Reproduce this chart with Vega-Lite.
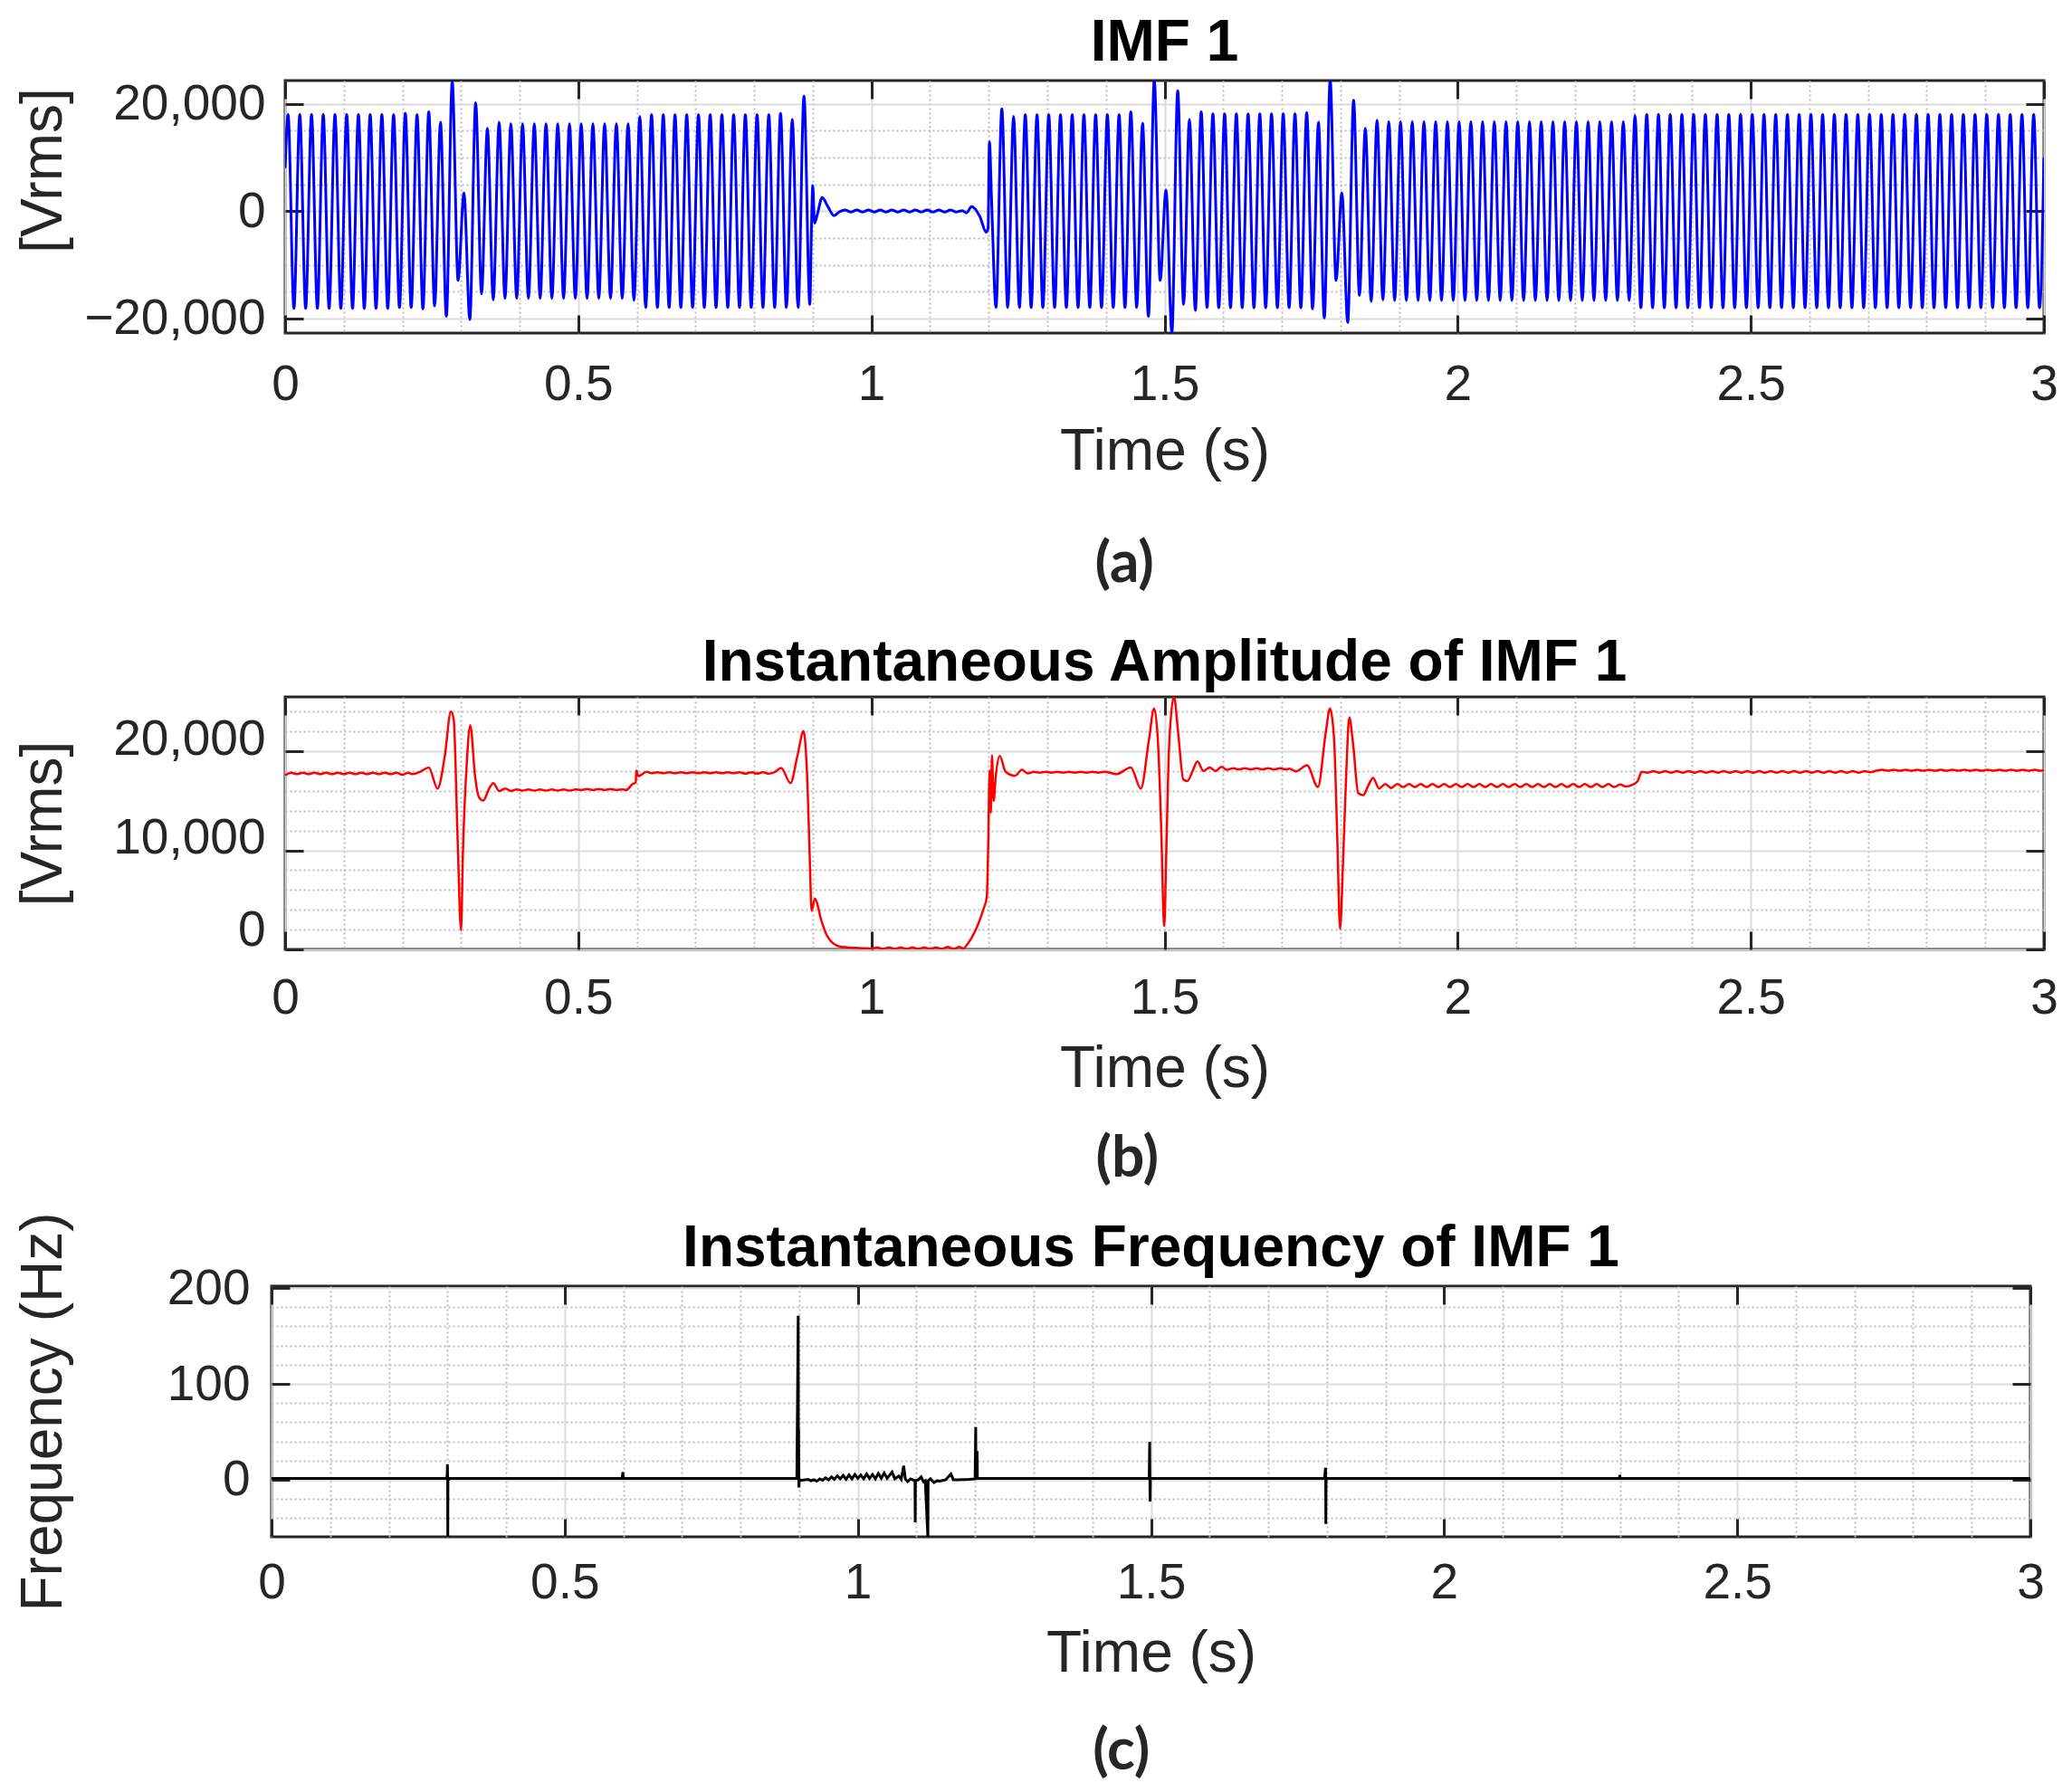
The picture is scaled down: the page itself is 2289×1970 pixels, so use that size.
{
  "$schema": "https://vega.github.io/schema/vega-lite/v6.json",
  "background": "white",
  "padding": {"left": 7, "top": 14, "right": 0, "bottom": 0},
  "spacing": 24,
  "vconcat": [
    {
      "spacing": 43,
      "vconcat": [
        {
          "title": {"text": "(a)", "orient": "bottom", "font": "Lato", "fontSize": 64, "fontWeight": "bold", "color": "#262626", "frame": "bounds", "anchor": "middle", "baseline": "top", "offset": 59, "dx": 101},
          "spacing": 0,
          "hconcat": [
            {"width": 1, "height": 1, "data": {"values": [{"t": 0}]}, "mark": {"type": "point", "opacity": 0}, "view": {"stroke": null}},
            {
              "width": 1943,
              "height": 279,
              "title": {"text": "IMF 1", "offset": -43, "baseline": "alphabetic"},
              "data": {"values": [
                {"t":0,"v":8000},{"t":0.005,"v":18000},{"t":0.015,"v":-18100},{"t":0.025,"v":18000},{"t":0.035,"v":-18100},{"t":0.045,"v":18000},{"t":0.055,"v":-18100},{"t":0.065,"v":18000},{"t":0.075,"v":-18100},{"t":0.085,"v":18000},{"t":0.095,"v":-18100},
                {"t":0.105,"v":18000},{"t":0.115,"v":-18100},{"t":0.125,"v":18000},{"t":0.135,"v":-18100},{"t":0.145,"v":18000},{"t":0.155,"v":-18100},{"t":0.165,"v":18000},{"t":0.175,"v":-18100},{"t":0.185,"v":17930},{"t":0.195,"v":-17930},
                {"t":0.205,"v":18200},{"t":0.215,"v":-17930},{"t":0.225,"v":17930},{"t":0.235,"v":-18200},{"t":0.245,"v":18490},{"t":0.255,"v":-17650},{"t":0.265,"v":16530},{"t":0.275,"v":-19600},{"t":0.285,"v":24090},{"t":0.295,"v":-12890},
                {"t":0.305,"v":3360},{"t":0.315,"v":-20170},{"t":0.325,"v":20170},{"t":0.335,"v":-15400},{"t":0.345,"v":15400},{"t":0.355,"v":-16530},{"t":0.365,"v":16530},{"t":0.375,"v":-16250},{"t":0.385,"v":16250},{"t":0.395,"v":-16250},
                {"t":0.405,"v":16250},{"t":0.415,"v":-16250},{"t":0.425,"v":16250},{"t":0.435,"v":-16250},{"t":0.445,"v":16250},{"t":0.455,"v":-16250},{"t":0.465,"v":16250},{"t":0.475,"v":-16250},{"t":0.485,"v":16250},{"t":0.495,"v":-16250},
                {"t":0.505,"v":16250},{"t":0.515,"v":-16250},{"t":0.525,"v":16250},{"t":0.535,"v":-16250},{"t":0.545,"v":16250},{"t":0.555,"v":-16250},{"t":0.565,"v":16250},{"t":0.575,"v":-16250},{"t":0.585,"v":16250},{"t":0.595,"v":-16600},
                {"t":0.605,"v":17650},{"t":0.615,"v":-17930},{"t":0.625,"v":17930},{"t":0.635,"v":-17930},{"t":0.645,"v":17930},{"t":0.655,"v":-17930},{"t":0.665,"v":17930},{"t":0.675,"v":-17930},{"t":0.685,"v":17930},{"t":0.695,"v":-17930},
                {"t":0.705,"v":17930},{"t":0.715,"v":-17930},{"t":0.725,"v":17930},{"t":0.735,"v":-17930},{"t":0.745,"v":17930},{"t":0.755,"v":-17930},{"t":0.765,"v":17930},{"t":0.775,"v":-17930},{"t":0.785,"v":17930},{"t":0.795,"v":-17930},
                {"t":0.805,"v":17930},{"t":0.815,"v":-17930},{"t":0.825,"v":17930},{"t":0.835,"v":-17930},{"t":0.845,"v":18200},{"t":0.855,"v":-17930},{"t":0.865,"v":17090},{"t":0.875,"v":-17930},{"t":0.885,"v":21400},{"t":0.895,"v":-17370},
                {"t":0.8975,"v":-4500},{"t":0.9,"v":4760},{"t":0.903,"v":-2240},{"t":0.908,"v":-500},{"t":0.916,"v":2520},{"t":0.926,"v":800},{"t":0.936,"v":-840},{"t":0.946,"v":-100},
                {"t":0.955,"v":200},{"t":0.965,"v":-150},{"t":0.975,"v":200},{"t":0.985,"v":-150},{"t":0.995,"v":200},{"t":1.005,"v":-150},{"t":1.015,"v":200},{"t":1.025,"v":-150},{"t":1.035,"v":200},{"t":1.045,"v":-150},
                {"t":1.055,"v":200},{"t":1.065,"v":-150},{"t":1.075,"v":200},{"t":1.085,"v":-150},{"t":1.095,"v":200},{"t":1.105,"v":-150},{"t":1.115,"v":200},{"t":1.125,"v":-150},{"t":1.135,"v":200},{"t":1.145,"v":-150},
                {"t":1.155,"v":100},{"t":1.162,"v":-300},{"t":1.171,"v":840},{"t":1.185,"v":-1000},{"t":1.1957,"v":-3900},{"t":1.199,"v":-3200},{"t":1.2013,"v":12900},{"t":1.205,"v":2000},{"t":1.2125,"v":-17930},{"t":1.2225,"v":19050},
                {"t":1.2325,"v":-17930},{"t":1.2425,"v":17650},{"t":1.2525,"v":-17930},{"t":1.2625,"v":17930},{"t":1.2725,"v":-17930},{"t":1.2825,"v":17930},{"t":1.2925,"v":-17930},{"t":1.3025,"v":17930},{"t":1.3125,"v":-17930},{"t":1.3225,"v":17930},
                {"t":1.3325,"v":-17930},{"t":1.3425,"v":17930},{"t":1.3525,"v":-17930},{"t":1.3625,"v":17930},{"t":1.3725,"v":-17930},{"t":1.3825,"v":17930},{"t":1.3925,"v":-17930},{"t":1.4025,"v":17930},{"t":1.4125,"v":-17930},{"t":1.4225,"v":17930},
                {"t":1.4325,"v":-17930},{"t":1.4425,"v":18490},{"t":1.4525,"v":-17930},{"t":1.4625,"v":16360},{"t":1.4725,"v":-19600},{"t":1.4825,"v":24370},{"t":1.4925,"v":-12890},{"t":1.5025,"v":3920},{"t":1.5125,"v":-22690},{"t":1.5225,"v":22400},
                {"t":1.5325,"v":-17370},{"t":1.5425,"v":17090},{"t":1.5525,"v":-18490},{"t":1.5625,"v":18490},{"t":1.5725,"v":-17930},{"t":1.5825,"v":18100},{"t":1.5925,"v":-18000},{"t":1.6025,"v":18100},{"t":1.6125,"v":-18000},{"t":1.6225,"v":18100},
                {"t":1.6325,"v":-18000},{"t":1.6425,"v":18100},{"t":1.6525,"v":-18000},{"t":1.6625,"v":18100},{"t":1.6725,"v":-18000},{"t":1.6825,"v":18100},{"t":1.6925,"v":-18000},{"t":1.7025,"v":18100},{"t":1.7125,"v":-18000},{"t":1.7225,"v":18100},
                {"t":1.7325,"v":-18000},{"t":1.7425,"v":18300},{"t":1.7525,"v":-18200},{"t":1.7625,"v":16530},{"t":1.7725,"v":-19890},{"t":1.7825,"v":24370},{"t":1.7925,"v":-12890},{"t":1.8025,"v":3360},{"t":1.8125,"v":-20730},{"t":1.8225,"v":20620},
                {"t":1.8325,"v":-15690},{"t":1.8425,"v":15400},{"t":1.8525,"v":-16810},{"t":1.8625,"v":16920},{"t":1.8725,"v":-16530},{"t":1.8825,"v":16650},{"t":1.8925,"v":-16650},{"t":1.9025,"v":16650},{"t":1.9125,"v":-16650},{"t":1.9225,"v":16650},
                {"t":1.9325,"v":-16650},{"t":1.9425,"v":16650},{"t":1.9525,"v":-16650},{"t":1.9625,"v":16650},{"t":1.9725,"v":-16650},{"t":1.9825,"v":16650},{"t":1.9925,"v":-16650},{"t":2.0025,"v":16650},{"t":2.0125,"v":-16650},{"t":2.0225,"v":16650},
                {"t":2.0325,"v":-16650},{"t":2.0425,"v":16650},{"t":2.0525,"v":-16650},{"t":2.0625,"v":16650},{"t":2.0725,"v":-16650},{"t":2.0825,"v":16650},{"t":2.0925,"v":-16650},{"t":2.1025,"v":16650},{"t":2.1125,"v":-16650},{"t":2.1225,"v":16650},
                {"t":2.1325,"v":-16650},{"t":2.1425,"v":16650},{"t":2.1525,"v":-16650},{"t":2.1625,"v":16650},{"t":2.1725,"v":-16650},{"t":2.1825,"v":16650},{"t":2.1925,"v":-16650},{"t":2.2025,"v":16650},{"t":2.2125,"v":-16650},{"t":2.2225,"v":16650},
                {"t":2.2325,"v":-16650},{"t":2.2425,"v":16650},{"t":2.2525,"v":-16650},{"t":2.2625,"v":16650},{"t":2.2725,"v":-16650},{"t":2.2825,"v":16650},{"t":2.2925,"v":-16650},{"t":2.3025,"v":17800},{"t":2.3125,"v":-18000},{"t":2.3225,"v":18000},
                {"t":2.3325,"v":-18000},{"t":2.3425,"v":18000},{"t":2.3525,"v":-18000},{"t":2.3625,"v":18000},{"t":2.3725,"v":-18000},{"t":2.3825,"v":18000},{"t":2.3925,"v":-18000},{"t":2.4025,"v":18000},{"t":2.4125,"v":-18000},{"t":2.4225,"v":18000},
                {"t":2.4325,"v":-18000},{"t":2.4425,"v":18000},{"t":2.4525,"v":-18000},{"t":2.4625,"v":18000},{"t":2.4725,"v":-18000},{"t":2.4825,"v":18000},{"t":2.4925,"v":-18000},{"t":2.5025,"v":18000},{"t":2.5125,"v":-18000},{"t":2.5225,"v":18000},
                {"t":2.5325,"v":-18000},{"t":2.5425,"v":18000},{"t":2.5525,"v":-18000},{"t":2.5625,"v":18000},{"t":2.5725,"v":-18000},{"t":2.5825,"v":18000},{"t":2.5925,"v":-18000},{"t":2.6025,"v":18000},{"t":2.6125,"v":-18000},{"t":2.6225,"v":18000},
                {"t":2.6325,"v":-18000},{"t":2.6425,"v":18000},{"t":2.6525,"v":-18000},{"t":2.6625,"v":18000},{"t":2.6725,"v":-18000},{"t":2.6825,"v":18000},{"t":2.6925,"v":-18000},{"t":2.7025,"v":18000},{"t":2.7125,"v":-18000},{"t":2.7225,"v":18000},
                {"t":2.7325,"v":-18000},{"t":2.7425,"v":18000},{"t":2.7525,"v":-18000},{"t":2.7625,"v":18000},{"t":2.7725,"v":-18000},{"t":2.7825,"v":18000},{"t":2.7925,"v":-18000},{"t":2.8025,"v":18000},{"t":2.8125,"v":-18000},{"t":2.8225,"v":18000},
                {"t":2.8325,"v":-18000},{"t":2.8425,"v":18000},{"t":2.8525,"v":-18000},{"t":2.8625,"v":18000},{"t":2.8725,"v":-18000},{"t":2.8825,"v":18000},{"t":2.8925,"v":-18000},{"t":2.9025,"v":18000},{"t":2.9125,"v":-18000},{"t":2.9225,"v":18000},
                {"t":2.9325,"v":-18000},{"t":2.9425,"v":18000},{"t":2.9525,"v":-18000},{"t":2.9625,"v":18000},{"t":2.9725,"v":-18000},{"t":2.9825,"v":18000},{"t":2.9925,"v":-18000},{"t":3,"v":10000}
              ]},
              "layer": [
                {
                  "mark": {"type": "line", "color": "#0000ff", "strokeWidth": 3, "interpolate": "monotone", "clip": true},
                  "encoding": {
                    "x": {"field": "t", "type": "quantitative", "scale": {"domain": [0, 3], "nice": false, "zero": false},
                      "axis": {"values": [0,0.1,0.2,0.3,0.4,0.5,0.6,0.7,0.8,0.9,1,1.1,1.2,1.3,1.4,1.5,1.6,1.7,1.8,1.9,2,2.1,2.2,2.3,2.4,2.5,2.6,2.7,2.8,2.9,3],
                        "labelExpr": "abs(datum.value*2-round(datum.value*2))<0.001 ? format(datum.value,'~g') : ''",
                        "labelFlush": false, "labelOverlap": false, "labelBound": false,
                        "grid": true, "gridWidth": 2,
                        "gridColor": {"condition": {"test": "abs(datum.value*2-round(datum.value*2))<0.001", "value": "#dcdcdc"}, "value": "#bdbdbd"},
                        "gridDash": {"condition": {"test": "abs(datum.value*2-round(datum.value*2))<0.001", "value": [1, 0]}, "value": [2, 3]},
                        "tickSize": -20, "tickWidth": 3, "tickColor": "#262626",
                        "tickOpacity": {"condition": {"test": "abs(datum.value*2-round(datum.value*2))<0.001", "value": 1}, "value": 0},
                        "labelPadding": 50, "title": "Time (s)", "titlePadding": 9, "minExtent": 90, "maxExtent": 90}},
                    "y": {"field": "v", "type": "quantitative", "scale": {"domain": [-22700, 24300], "nice": false, "zero": false},
                      "axis": {"values": [-20000,-15000,-10000,-5000,0,5000,10000,15000,20000],
                        "labelExpr": "datum.value % 20000 === 0 ? format(datum.value, ',') : ''",
                        "labelFlush": false, "labelOverlap": false, "labelBound": false, "labelLimit": 400,
                        "grid": true, "gridWidth": 2,
                        "gridColor": {"condition": {"test": "datum.value % 20000 === 0", "value": "#dcdcdc"}, "value": "#bdbdbd"},
                        "gridDash": {"condition": {"test": "datum.value % 20000 === 0", "value": [1, 0]}, "value": [2, 3]},
                        "tickSize": -20, "tickWidth": 3, "tickColor": "#262626",
                        "tickOpacity": {"condition": {"test": "datum.value % 20000 === 0", "value": 1}, "value": 0},
                        "labelPadding": 42, "title": "[Vrms]", "titlePadding": 20, "titleY": 99, "minExtent": 215, "maxExtent": 215}}
                  }
                },
                {
                  "transform": [{"filter": "datum.t == 0"}],
                  "mark": {"type": "point", "opacity": 0},
                  "encoding": {
                    "x": {"field": "t", "type": "quantitative", "scale": {"domain": [0, 3], "nice": false, "zero": false},
                      "axis": {"orient": "top", "values": [0,0.5,1,1.5,2,2.5,3], "labels": false, "grid": false, "domain": false, "title": null, "tickSize": -20, "tickWidth": 3, "tickColor": "#262626", "minExtent": 0, "maxExtent": 0}},
                    "y": {"field": "v", "type": "quantitative", "scale": {"domain": [-22700, 24300], "nice": false, "zero": false},
                      "axis": {"orient": "right", "values": [-20000,0,20000], "labels": false, "grid": false, "domain": false, "title": null, "tickSize": -20, "tickWidth": 3, "tickColor": "#262626", "minExtent": 0, "maxExtent": 0}}
                  }
                }
              ],
              "resolve": {"axis": {"x": "independent", "y": "independent"}}
            }
          ]
        },
        {
          "title": {"text": "(b)", "orient": "bottom", "font": "Lato", "fontSize": 64, "fontWeight": "bold", "color": "#262626", "frame": "bounds", "anchor": "middle", "baseline": "top", "offset": 34, "dx": 104},
          "spacing": 0,
          "hconcat": [
            {"width": 1, "height": 1, "data": {"values": [{"t": 0}]}, "mark": {"type": "point", "opacity": 0}, "view": {"stroke": null}},
            {
              "width": 1943,
              "height": 279,
              "title": {"text": "Instantaneous Amplitude of IMF 1", "offset": -71, "baseline": "alphabetic"},
              "data": {"values": [
                {"t":0,"v":17600},{"t":0.01,"v":17850},{"t":0.02,"v":17700},{"t":0.03,"v":17850},{"t":0.04,"v":17700},{"t":0.05,"v":17850},{"t":0.06,"v":17700},{"t":0.07,"v":17850},{"t":0.08,"v":17700},{"t":0.09,"v":17850},
                {"t":0.1,"v":17700},{"t":0.11,"v":17850},{"t":0.12,"v":17700},{"t":0.13,"v":17850},{"t":0.14,"v":17700},{"t":0.15,"v":17850},{"t":0.16,"v":17700},{"t":0.17,"v":17850},{"t":0.18,"v":17700},{"t":0.19,"v":17850},
                {"t":0.2,"v":17650},{"t":0.21,"v":17850},{"t":0.2175,"v":17700},{"t":0.232,"v":18000},{"t":0.2449,"v":18380},{"t":0.26,"v":16250},{"t":0.2725,"v":19600},{"t":0.2827,"v":24020},{"t":0.2875,"v":23250},{"t":0.2944,"v":10760},
                {"t":0.3,"v":1920},{"t":0.3033,"v":9850},{"t":0.31,"v":19000},{"t":0.3158,"v":22650},{"t":0.324,"v":17470},{"t":0.331,"v":15330},{"t":0.338,"v":15030},{"t":0.348,"v":16250},{"t":0.355,"v":16800},{"t":0.365,"v":16000},
                {"t":0.3755,"v":16250},{"t":0.385,"v":16000},{"t":0.395,"v":16150},{"t":0.405,"v":16050},{"t":0.415,"v":16150},{"t":0.425,"v":16050},{"t":0.435,"v":16150},{"t":0.445,"v":16050},{"t":0.455,"v":16150},{"t":0.465,"v":16050},
                {"t":0.475,"v":16150},{"t":0.485,"v":16050},{"t":0.495,"v":16150},{"t":0.505,"v":16100},{"t":0.515,"v":16200},{"t":0.525,"v":16100},{"t":0.535,"v":16200},{"t":0.545,"v":16100},{"t":0.555,"v":16200},{"t":0.565,"v":16100},
                {"t":0.575,"v":16150},{"t":0.582,"v":16100},{"t":0.5925,"v":16700},{"t":0.598,"v":16850},{"t":0.599,"v":18080},{"t":0.6025,"v":17500},{"t":0.6163,"v":17930},{"t":0.625,"v":17800},{"t":0.635,"v":17900},{"t":0.645,"v":17800},
                {"t":0.655,"v":17900},{"t":0.665,"v":17800},{"t":0.675,"v":17900},{"t":0.685,"v":17800},{"t":0.695,"v":17900},{"t":0.705,"v":17800},{"t":0.715,"v":17900},{"t":0.725,"v":17800},{"t":0.735,"v":17900},{"t":0.745,"v":17800},
                {"t":0.755,"v":17900},{"t":0.765,"v":17800},{"t":0.775,"v":17900},{"t":0.785,"v":17750},{"t":0.795,"v":17900},{"t":0.805,"v":17750},{"t":0.815,"v":17900},{"t":0.825,"v":17750},{"t":0.835,"v":17900},{"t":0.846,"v":18320},
                {"t":0.862,"v":16800},{"t":0.874,"v":19600},{"t":0.8843,"v":22040},{"t":0.8912,"v":16250},{"t":0.8947,"v":9540},{"t":0.898,"v":3900},{"t":0.9035,"v":5120},{"t":0.915,"v":2840},{"t":0.925,"v":1310},{"t":0.9455,"v":300},
                {"t":0.973,"v":150},{"t":1,"v":100},{"t":1.01,"v":200},{"t":1.02,"v":50},{"t":1.03,"v":200},{"t":1.04,"v":50},{"t":1.05,"v":200},{"t":1.06,"v":50},{"t":1.07,"v":200},{"t":1.08,"v":50},
                {"t":1.09,"v":200},{"t":1.1,"v":50},{"t":1.11,"v":200},{"t":1.12,"v":50},{"t":1.13,"v":250},{"t":1.14,"v":50},{"t":1.15,"v":250},{"t":1.157,"v":100},{"t":1.164,"v":550},{"t":1.1775,"v":1920},
                {"t":1.191,"v":4050},{"t":1.1968,"v":5270},{"t":1.1995,"v":11370},{"t":1.2016,"v":18080},{"t":1.2037,"v":13800},{"t":1.2057,"v":19600},{"t":1.2085,"v":15000},{"t":1.212,"v":17400},{"t":1.2188,"v":19540},{"t":1.229,"v":17930},
                {"t":1.245,"v":17530},{"t":1.2567,"v":18140},{"t":1.267,"v":17770},{"t":1.277,"v":17930},{"t":1.287,"v":17850},{"t":1.297,"v":17930},{"t":1.307,"v":17850},{"t":1.317,"v":17930},{"t":1.327,"v":17850},{"t":1.337,"v":17930},
                {"t":1.347,"v":17850},{"t":1.357,"v":17930},{"t":1.367,"v":17850},{"t":1.377,"v":17930},{"t":1.387,"v":17850},{"t":1.397,"v":17930},{"t":1.407,"v":17850},{"t":1.418,"v":17700},{"t":1.4424,"v":18380},{"t":1.4596,"v":16250},
                {"t":1.4733,"v":21130},{"t":1.4823,"v":24330},{"t":1.4892,"v":20520},{"t":1.494,"v":12900},{"t":1.4995,"v":2380},{"t":1.503,"v":9850},{"t":1.5078,"v":20520},{"t":1.516,"v":25550},{"t":1.523,"v":22040},{"t":1.532,"v":17160},
                {"t":1.5388,"v":17000},{"t":1.5478,"v":18000},{"t":1.556,"v":18990},{"t":1.5664,"v":18020},{"t":1.577,"v":18380},{"t":1.587,"v":18020},{"t":1.597,"v":18440},{"t":1.607,"v":18140},{"t":1.617,"v":18300},{"t":1.627,"v":18180},
                {"t":1.637,"v":18300},{"t":1.647,"v":18180},{"t":1.657,"v":18300},{"t":1.667,"v":18180},{"t":1.677,"v":18300},{"t":1.687,"v":18180},{"t":1.697,"v":18300},{"t":1.707,"v":18180},{"t":1.713,"v":18250},{"t":1.724,"v":17980},
                {"t":1.743,"v":18600},{"t":1.7616,"v":16400},{"t":1.7753,"v":22040},{"t":1.7822,"v":24330},{"t":1.789,"v":21430},{"t":1.7946,"v":11370},{"t":1.7994,"v":2070},{"t":1.8042,"v":8320},{"t":1.8097,"v":17470},{"t":1.8152,"v":23410},
                {"t":1.822,"v":20520},{"t":1.8303,"v":15790},{"t":1.8392,"v":15580},{"t":1.8475,"v":16550},{"t":1.8557,"v":17320},{"t":1.866,"v":16250},{"t":1.8763,"v":16700},{"t":1.8866,"v":16300},{"t":1.897,"v":16700},{"t":1.907,"v":16400},
                {"t":1.917,"v":16700},{"t":1.927,"v":16400},{"t":1.937,"v":16700},{"t":1.947,"v":16400},{"t":1.957,"v":16700},{"t":1.967,"v":16400},{"t":1.977,"v":16700},{"t":1.987,"v":16400},{"t":1.997,"v":16700},{"t":2.007,"v":16400},
                {"t":2.017,"v":16700},{"t":2.027,"v":16400},{"t":2.037,"v":16700},{"t":2.047,"v":16400},{"t":2.057,"v":16700},{"t":2.067,"v":16400},{"t":2.077,"v":16700},{"t":2.087,"v":16400},{"t":2.097,"v":16700},{"t":2.107,"v":16400},
                {"t":2.117,"v":16700},{"t":2.127,"v":16400},{"t":2.137,"v":16700},{"t":2.147,"v":16400},{"t":2.157,"v":16700},{"t":2.167,"v":16400},{"t":2.177,"v":16700},{"t":2.187,"v":16400},{"t":2.197,"v":16700},{"t":2.207,"v":16400},
                {"t":2.217,"v":16700},{"t":2.227,"v":16400},{"t":2.237,"v":16700},{"t":2.247,"v":16400},{"t":2.257,"v":16700},{"t":2.267,"v":16400},{"t":2.277,"v":16650},{"t":2.287,"v":16450},{"t":2.297,"v":16600},{"t":2.307,"v":17000},
                {"t":2.314,"v":17930},{"t":2.324,"v":17850},{"t":2.334,"v":18000},{"t":2.344,"v":17850},{"t":2.354,"v":18000},{"t":2.364,"v":17850},{"t":2.374,"v":18000},{"t":2.384,"v":17850},{"t":2.394,"v":18000},{"t":2.404,"v":17850},
                {"t":2.414,"v":18000},{"t":2.424,"v":17850},{"t":2.434,"v":18000},{"t":2.444,"v":17850},{"t":2.454,"v":18000},{"t":2.464,"v":17850},{"t":2.474,"v":18000},{"t":2.484,"v":17850},{"t":2.494,"v":18000},{"t":2.504,"v":17850},
                {"t":2.514,"v":18000},{"t":2.524,"v":17850},{"t":2.534,"v":18000},{"t":2.544,"v":17850},{"t":2.554,"v":18000},{"t":2.564,"v":17850},{"t":2.574,"v":18000},{"t":2.584,"v":17850},{"t":2.594,"v":18000},{"t":2.604,"v":17850},
                {"t":2.614,"v":18000},{"t":2.624,"v":17850},{"t":2.634,"v":18000},{"t":2.644,"v":17850},{"t":2.654,"v":18000},{"t":2.664,"v":17850},{"t":2.674,"v":18000},{"t":2.684,"v":17850},{"t":2.694,"v":18000},{"t":2.704,"v":17900},
                {"t":2.714,"v":18050},{"t":2.724,"v":18150},{"t":2.734,"v":18050},{"t":2.744,"v":18150},{"t":2.754,"v":18050},{"t":2.764,"v":18150},{"t":2.774,"v":18050},{"t":2.784,"v":18150},{"t":2.794,"v":18050},{"t":2.804,"v":18150},
                {"t":2.814,"v":18050},{"t":2.824,"v":18150},{"t":2.834,"v":18050},{"t":2.844,"v":18150},{"t":2.854,"v":18050},{"t":2.864,"v":18150},{"t":2.874,"v":18050},{"t":2.884,"v":18150},{"t":2.894,"v":18050},{"t":2.904,"v":18150},
                {"t":2.914,"v":18050},{"t":2.924,"v":18150},{"t":2.934,"v":18050},{"t":2.944,"v":18150},{"t":2.954,"v":18050},{"t":2.964,"v":18150},{"t":2.974,"v":18050},{"t":2.984,"v":18150},{"t":2.994,"v":18050},{"t":3,"v":18100}
              ]},
              "layer": [
                {
                  "mark": {"type": "line", "color": "#ff0000", "strokeWidth": 2.5, "interpolate": "monotone", "clip": true},
                  "encoding": {
                    "x": {"field": "t", "type": "quantitative", "scale": {"domain": [0, 3], "nice": false, "zero": false},
                      "axis": {"values": [0,0.1,0.2,0.3,0.4,0.5,0.6,0.7,0.8,0.9,1,1.1,1.2,1.3,1.4,1.5,1.6,1.7,1.8,1.9,2,2.1,2.2,2.3,2.4,2.5,2.6,2.7,2.8,2.9,3],
                        "labelExpr": "abs(datum.value*2-round(datum.value*2))<0.001 ? format(datum.value,'~g') : ''",
                        "labelFlush": false, "labelOverlap": false, "labelBound": false,
                        "grid": true, "gridWidth": 2,
                        "gridColor": {"condition": {"test": "abs(datum.value*2-round(datum.value*2))<0.001", "value": "#dcdcdc"}, "value": "#bdbdbd"},
                        "gridDash": {"condition": {"test": "abs(datum.value*2-round(datum.value*2))<0.001", "value": [1, 0]}, "value": [2, 3]},
                        "tickSize": -20, "tickWidth": 3, "tickColor": "#262626",
                        "tickOpacity": {"condition": {"test": "abs(datum.value*2-round(datum.value*2))<0.001", "value": 1}, "value": 0},
                        "labelPadding": 47, "title": "Time (s)", "titlePadding": 10, "minExtent": 90, "maxExtent": 90}},
                    "y": {"field": "v", "type": "quantitative", "scale": {"domain": [0, 25500], "nice": false, "zero": false},
                      "axis": {"values": [0,2000,4000,6000,8000,10000,12000,14000,16000,18000,20000,22000,24000],
                        "labelExpr": "datum.value % 10000 === 0 ? format(datum.value, ',') : ''",
                        "labelFlush": false, "labelOverlap": false, "labelBound": false, "labelLimit": 400,
                        "labelOffset": {"condition": {"test": "datum.value === 0", "value": -22}, "value": -14},
                        "grid": true, "gridWidth": 2,
                        "gridColor": {"condition": {"test": "datum.value % 10000 === 0", "value": "#dcdcdc"}, "value": "#bdbdbd"},
                        "gridDash": {"condition": {"test": "datum.value % 10000 === 0", "value": [1, 0]}, "value": [2, 3]},
                        "tickSize": -20, "tickWidth": 3, "tickColor": "#262626",
                        "tickOpacity": {"condition": {"test": "datum.value % 10000 === 0", "value": 1}, "value": 0},
                        "labelPadding": 42, "title": "[Vrms]", "titlePadding": 20, "minExtent": 215, "maxExtent": 215}}
                  }
                },
                {
                  "transform": [{"filter": "datum.t == 0"}],
                  "mark": {"type": "point", "opacity": 0},
                  "encoding": {
                    "x": {"field": "t", "type": "quantitative", "scale": {"domain": [0, 3], "nice": false, "zero": false},
                      "axis": {"orient": "top", "values": [0,0.5,1,1.5,2,2.5,3], "labels": false, "grid": false, "domain": false, "title": null, "tickSize": -20, "tickWidth": 3, "tickColor": "#262626", "minExtent": 0, "maxExtent": 0}},
                    "y": {"field": "v", "type": "quantitative", "scale": {"domain": [0, 25500], "nice": false, "zero": false},
                      "axis": {"orient": "right", "values": [0,10000,20000], "labels": false, "grid": false, "domain": false, "title": null, "tickSize": -20, "tickWidth": 3, "tickColor": "#262626", "minExtent": 0, "maxExtent": 0}}
                  }
                }
              ],
              "resolve": {"axis": {"x": "independent", "y": "independent"}}
            }
          ]
        }
      ]
    },
    {
      "title": {"text": "(c)", "orient": "bottom", "font": "Lato", "fontSize": 64, "fontWeight": "bold", "color": "#262626", "frame": "bounds", "anchor": "middle", "baseline": "top", "offset": 43, "dx": 105},
      "spacing": 0,
      "hconcat": [
        {"width": 1, "height": 1, "data": {"values": [{"t": 0}]}, "mark": {"type": "point", "opacity": 0}, "view": {"stroke": null}},
        {
          "width": 1943,
          "height": 277,
          "title": {"text": "Instantaneous Frequency of IMF 1", "offset": -124, "baseline": "alphabetic"},
          "data": {"values": [
            {"t":0,"v":1.5},{"t":0.297,"v":1.5},{"t":0.2995,"v":3},{"t":0.3,"v":16},{"t":0.3003,"v":2},{"t":0.3006,"v":-60},{"t":0.3009,"v":1},{"t":0.302,"v":0},{"t":0.304,"v":1.5},{"t":0.598,"v":1.5},
            {"t":0.5993,"v":8},{"t":0.6,"v":1.5},{"t":0.896,"v":1.5},{"t":0.8983,"v":171},{"t":0.8987,"v":1.5},{"t":0.899,"v":53},{"t":0.8995,"v":-8},{"t":0.9,"v":0},{"t":0.905,"v":-0.5},{"t":0.915,"v":0.5},
            {"t":0.92,"v":-1},{"t":0.925,"v":0},{"t":0.93,"v":-1.5},{"t":0.935,"v":1},{"t":0.94,"v":-0.5},{"t":0.945,"v":2},{"t":0.95,"v":0},{"t":0.955,"v":3},{"t":0.96,"v":0.5},{"t":0.965,"v":4},
            {"t":0.97,"v":1},{"t":0.975,"v":4.5},{"t":0.98,"v":0.5},{"t":0.985,"v":5},{"t":0.99,"v":1},{"t":0.995,"v":5.5},{"t":1,"v":1.5},{"t":1.005,"v":5},{"t":1.01,"v":1},{"t":1.015,"v":6},
            {"t":1.02,"v":1.5},{"t":1.025,"v":5.5},{"t":1.03,"v":1},{"t":1.035,"v":6.5},{"t":1.04,"v":1.5},{"t":1.045,"v":7},{"t":1.05,"v":1.5},{"t":1.0584,"v":8},{"t":1.063,"v":1},{"t":1.07,"v":4},
            {"t":1.074,"v":0.5},{"t":1.0782,"v":14.6},{"t":1.081,"v":1},{"t":1.085,"v":-2},{"t":1.09,"v":1},{"t":1.0975,"v":-1},{"t":1.0979,"v":-44.5},{"t":1.0983,"v":-1},{"t":1.103,"v":0},{"t":1.108,"v":3},
            {"t":1.112,"v":-2},{"t":1.115,"v":-1},{"t":1.1195,"v":-60},{"t":1.1199,"v":-1},{"t":1.124,"v":1},{"t":1.13,"v":-3},{"t":1.135,"v":-1},{"t":1.14,"v":-1.5},{"t":1.15,"v":0},{"t":1.1588,"v":6},
            {"t":1.163,"v":0},{"t":1.17,"v":0},{"t":1.19,"v":0.5},{"t":1.2,"v":1},{"t":1.2011,"v":55},{"t":1.2015,"v":2},{"t":1.2035,"v":30},{"t":1.204,"v":1.5},{"t":1.497,"v":1.5},{"t":1.4978,"v":39.6},
            {"t":1.4982,"v":1},{"t":1.4985,"v":-22.7},{"t":1.499,"v":1.5},{"t":1.796,"v":1.5},{"t":1.7978,"v":12.5},{"t":1.798,"v":1},{"t":1.7983,"v":-46},{"t":1.7987,"v":1.5},{"t":2.299,"v":1.5},{"t":2.2998,"v":5},
            {"t":2.3,"v":1.5},{"t":3,"v":1.5}
          ]},
          "layer": [
            {
              "mark": {"type": "line", "color": "#000000", "strokeWidth": 3, "clip": true},
              "encoding": {
                "x": {"field": "t", "type": "quantitative", "scale": {"domain": [0, 3], "nice": false, "zero": false},
                  "axis": {"values": [0,0.1,0.2,0.3,0.4,0.5,0.6,0.7,0.8,0.9,1,1.1,1.2,1.3,1.4,1.5,1.6,1.7,1.8,1.9,2,2.1,2.2,2.3,2.4,2.5,2.6,2.7,2.8,2.9,3],
                    "labelExpr": "abs(datum.value*2-round(datum.value*2))<0.001 ? format(datum.value,'~g') : ''",
                    "labelFlush": false, "labelOverlap": false, "labelBound": false,
                    "grid": true, "gridWidth": 2,
                    "gridColor": {"condition": {"test": "abs(datum.value*2-round(datum.value*2))<0.001", "value": "#dcdcdc"}, "value": "#bdbdbd"},
                    "gridDash": {"condition": {"test": "abs(datum.value*2-round(datum.value*2))<0.001", "value": [1, 0]}, "value": [2, 3]},
                    "tickSize": -20, "tickWidth": 3, "tickColor": "#262626",
                    "tickOpacity": {"condition": {"test": "abs(datum.value*2-round(datum.value*2))<0.001", "value": 1}, "value": 0},
                    "labelPadding": 44, "title": "Time (s)", "titlePadding": 7, "minExtent": 90, "maxExtent": 90}},
                "y": {"field": "v", "type": "quantitative", "scale": {"domain": [-59.5, 202], "nice": false, "zero": false},
                  "axis": {"values": [-40,-20,0,20,40,60,80,100,120,140,160,180,200],
                    "labelExpr": "datum.value % 100 === 0 ? format(datum.value, ',') : ''",
                    "labelFlush": false, "labelOverlap": false, "labelBound": false, "labelLimit": 400,
                    "grid": true, "gridWidth": 2,
                    "gridColor": {"condition": {"test": "datum.value % 100 === 0", "value": "#dcdcdc"}, "value": "#bdbdbd"},
                    "gridDash": {"condition": {"test": "datum.value % 100 === 0", "value": [1, 0]}, "value": [2, 3]},
                    "tickSize": -20, "tickWidth": 3, "tickColor": "#262626",
                    "tickOpacity": {"condition": {"test": "datum.value % 100 === 0", "value": 1}, "value": 0},
                    "labelPadding": 44, "title": "Frequency (Hz)", "titlePadding": 100, "minExtent": 120, "maxExtent": 120}}
              }
            },
            {
              "transform": [{"filter": "datum.t == 0"}],
              "mark": {"type": "point", "opacity": 0},
              "encoding": {
                "x": {"field": "t", "type": "quantitative", "scale": {"domain": [0, 3], "nice": false, "zero": false},
                  "axis": {"orient": "top", "values": [0,0.5,1,1.5,2,2.5,3], "labels": false, "grid": false, "domain": false, "title": null, "tickSize": -20, "tickWidth": 3, "tickColor": "#262626", "minExtent": 0, "maxExtent": 0}},
                "y": {"field": "v", "type": "quantitative", "scale": {"domain": [-59.5, 202], "nice": false, "zero": false},
                  "axis": {"orient": "right", "values": [0,100,200], "labels": false, "grid": false, "domain": false, "title": null, "tickSize": -20, "tickWidth": 3, "tickColor": "#262626", "minExtent": 0, "maxExtent": 0}}
              }
            }
          ],
          "resolve": {"axis": {"x": "independent", "y": "independent"}}
        }
      ]
    }
  ],
  "config": {
    "font": "Liberation Sans",
    "view": {"stroke": "#262626", "strokeWidth": 3},
    "axis": {"labelFont": "Liberation Sans", "labelFontSize": 55, "labelColor": "#262626", "titleFont": "Liberation Sans", "titleFontSize": 64, "titleFontWeight": "normal", "titleColor": "#262626", "domain": false},
    "title": {"font": "Liberation Sans", "fontSize": 64, "fontWeight": "bold", "color": "#000000", "anchor": "middle", "frame": "group"}
  }
}
